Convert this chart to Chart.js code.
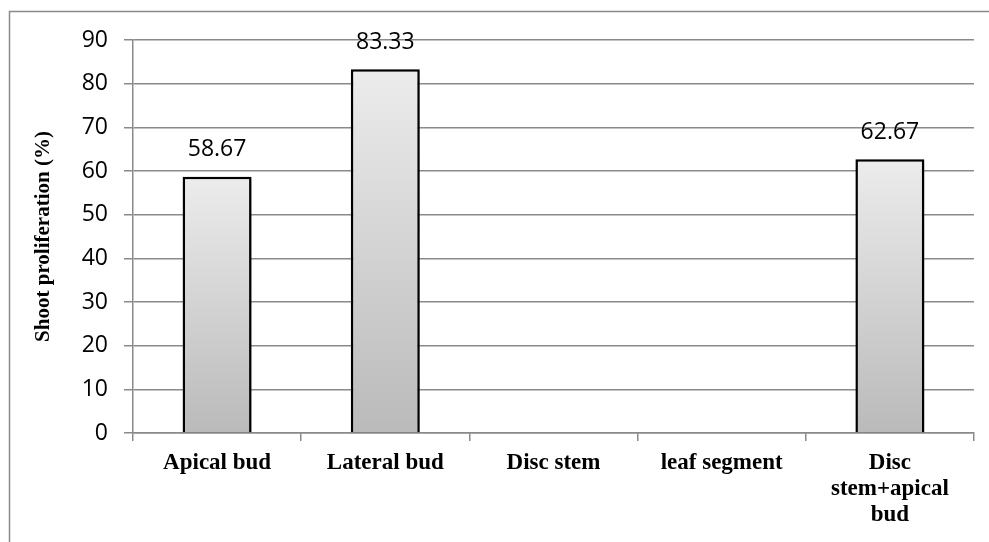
<!DOCTYPE html>
<html>
<head>
<meta charset="utf-8">
<script src="https://cdn.jsdelivr.net/npm/chart.js@4"></script>
<style>
  html, body { margin: 0; padding: 0; background: #fff; }
  #wrap { width: 989px; height: 542px; }
</style>
</head>
<body>
<div id="wrap"><canvas id="chart" width="989" height="542"></canvas></div>
<script>
// data
const categories = ["Apical bud", "Lateral bud", "Disc stem", "leaf segment", "Disc stem+apical bud"];
const tickLabels = ["Apical bud", "Lateral bud", "Disc stem", "leaf segment", ["Disc", "stem+apical", "bud"]];
const proliferation = [58.67, 83.33, null, null, 62.67];
const yTitle = "Shoot proliferation (%)";

// frame around the chart + shadow under the bars
const framePlugin = {
  id: "frame",
  beforeDraw(chart) {
    const c = chart.ctx;
    c.save();
    c.strokeStyle = "#8a8a8a";
    c.lineWidth = 1.5;
    c.strokeRect(9.5, 11.5, 985, 540);
    c.restore();
  },
  beforeDatasetsDraw(chart) {
    const c = chart.ctx;
    c.save();
    c.shadowColor = "rgba(0,0,0,0.35)";
    c.shadowBlur = 5;
    c.shadowOffsetX = 2;
    c.shadowOffsetY = 2;
  },
  afterDatasetsDraw(chart) {
    chart.ctx.restore();
  }
};

// value labels above bars
const valueLabels = {
  id: "valueLabels",
  afterDatasetsDraw(chart) {
    const c = chart.ctx;
    const meta = chart.getDatasetMeta(0);
    c.save();
    c.font = "23px 'Open Sans'";
    c.fillStyle = "#000";
    c.textAlign = "center";
    c.textBaseline = "middle";
    meta.data.forEach((bar, i) => {
      const v = proliferation[i];
      if (v == null) return;
      c.fillText(v.toFixed(2), bar.x, bar.y - 27);
    });
    c.restore();
  }
};

const ctx = document.getElementById("chart").getContext("2d");

const myChart = new Chart(ctx, {
  type: "bar",
  data: {
    labels: tickLabels,
    datasets: [{
      label: "Shoot proliferation",
      data: proliferation,
      backgroundColor: (context) => {
        const chart = context.chart;
        const y = chart.scales.y;
        if (!y || context.raw == null) return "#d8d8d8";
        const top = y.getPixelForValue(context.raw);
        const base = y.getPixelForValue(0);
        if (!isFinite(top) || !isFinite(base) || top === base) return "#d8d8d8";
        const g = chart.ctx.createLinearGradient(0, top, 0, base);
        g.addColorStop(0, "#ececec");
        g.addColorStop(1, "#bababa");
        return g;
      },
      borderColor: "#000",
      borderWidth: 2.5,
      borderSkipped: "bottom",
      categoryPercentage: 1,
      barPercentage: 0.41
    }]
  },
  options: {
    responsive: false,
    animation: false,
    layout: { padding: { left: 0, right: 15, top: 40, bottom: 0 } },
    plugins: {
      legend: { display: false },
      tooltip: { enabled: false }
    },
    scales: {
      x: {
        grid: {
          display: true,
          drawOnChartArea: false,
          drawTicks: true,
          tickLength: 8,
          color: "#8a8a8a",
          lineWidth: 1.5
        },
        border: { color: "#8a8a8a", width: 1.5 },
        ticks: {
          color: "#000",
          padding: 9,
          maxRotation: 0,
          autoSkip: false,
          font: { family: "'Liberation Serif'", size: 23, weight: "bold", lineHeight: 1.13 }
        },
        afterFit(scale) { scale.height = 109; }
      },
      y: {
        min: 0,
        max: 90,
        ticks: {
          stepSize: 10,
          color: "#000",
          padding: 16,
          font: { family: "'Open Sans'", size: 23 }
        },
        grid: {
          color: "#8a8a8a",
          lineWidth: 1.5,
          tickLength: 9
        },
        border: { color: "#8a8a8a", width: 1.5 },
        title: {
          display: true,
          text: yTitle,
          color: "#000",
          padding: { top: 31, bottom: 0 },
          font: { family: "'Liberation Serif'", size: 21, weight: "bold", lineHeight: 1.2 }
        },
        afterFit(scale) { scale.width = 133; }
      }
    }
  },
  plugins: [framePlugin, valueLabels]
});
</script>
</body>
</html>
